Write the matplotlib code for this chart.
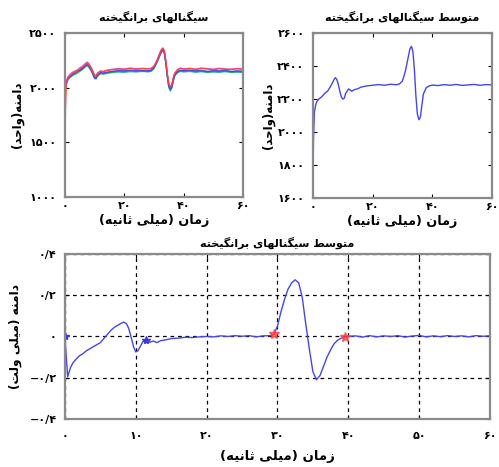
import matplotlib
matplotlib.use("Agg")
import matplotlib.pyplot as plt
import numpy as np

# Persian letters -> (isolated, final, initial, medial) presentation forms
FORMS = {
    'ا': ('\uFE8D', '\uFE8E', None, None),
    'ب': ('\uFE8F', '\uFE90', '\uFE91', '\uFE92'),
    'ت': ('\uFE95', '\uFE96', '\uFE97', '\uFE98'),
    'ث': ('\uFE99', '\uFE9A', '\uFE9B', '\uFE9C'),
    'ح': ('\uFEA1', '\uFEA2', '\uFEA3', '\uFEA4'),
    'خ': ('\uFEA5', '\uFEA6', '\uFEA7', '\uFEA8'),
    'د': ('\uFEA9', '\uFEAA', None, None),
    'ر': ('\uFEAD', '\uFEAE', None, None),
    'ز': ('\uFEAF', '\uFEB0', None, None),
    'س': ('\uFEB1', '\uFEB2', '\uFEB3', '\uFEB4'),
    'ط': ('\uFEC1', '\uFEC2', '\uFEC3', '\uFEC4'),
    'ل': ('\uFEDD', '\uFEDE', '\uFEDF', '\uFEE0'),
    'م': ('\uFEE1', '\uFEE2', '\uFEE3', '\uFEE4'),
    'ن': ('\uFEE5', '\uFEE6', '\uFEE7', '\uFEE8'),
    'ه': ('\uFEE9', '\uFEEA', '\uFEEB', '\uFEEC'),
    'و': ('\uFEED', '\uFEEE', None, None),
    'ی': ('\uFBFC', '\uFBFD', '\uFBFE', '\uFBFF'),
    'گ': ('\uFB92', '\uFB93', '\uFB94', '\uFB95'),
}


def fa(text):
    """Shape Persian text and return it in visual (left-to-right) order."""
    out = []
    for i, ch in enumerate(text):
        if ch not in FORMS:
            out.append(ch)
            continue
        prev = text[i - 1] if i > 0 else ''
        nxt = text[i + 1] if i + 1 < len(text) else ''
        iso, fin, ini, med = FORMS[ch]
        join_prev = prev in FORMS and FORMS[prev][2] is not None
        join_next = ini is not None and nxt in FORMS
        if join_prev and join_next:
            out.append(med)
        elif join_prev:
            out.append(fin)
        elif join_next:
            out.append(ini)
        else:
            out.append(iso)
    return ''.join(reversed(out)).translate(str.maketrans('()', ')('))


def fa_num(v):
    s = ('%g' % v).replace('-', '\u2212').replace('.', '/')
    return s.translate(str.maketrans('0123456789', '۰۱۲۳۴۵۶۷۸۹'))


# ---- data ----
t_sig = [0, 0.2, 0.5, 1, 2, 3, 4, 5, 6, 7, 7.5, 8, 9, 10, 10.5, 11, 12, 13, 14, 16,
         18, 20, 22, 24, 26, 28, 29, 30, 31, 32, 32.5, 33, 33.5, 34, 34.5, 35, 35.5,
         36, 36.5, 37, 38, 39, 40, 42, 44, 46, 48, 50, 52, 54, 56, 58, 60]
sig_red = [1400, 1800, 2030, 2080, 2120, 2140, 2150, 2175, 2190, 2215, 2228, 2215, 2170,
           2110, 2105, 2130, 2150, 2145, 2158, 2165, 2172, 2168, 2178, 2170, 2176, 2172,
           2175, 2195, 2245, 2315, 2345, 2360, 2335, 2245, 2125, 2035, 2005, 2025, 2085,
           2130, 2165, 2178, 2170, 2176, 2168, 2178, 2172, 2166, 2175, 2170, 2168, 2174, 2170]
sig_blue = [1950, 2000, 2050, 2090, 2110, 2130, 2150, 2160, 2180, 2205, 2215, 2210, 2160,
            2090, 2090, 2120, 2140, 2135, 2142, 2150, 2158, 2155, 2162, 2158, 2160, 2156,
            2160, 2185, 2240, 2305, 2335, 2350, 2325, 2235, 2115, 2020, 1990, 2010, 2070,
            2120, 2150, 2160, 2158, 2162, 2155, 2160, 2150, 2158, 2155, 2160, 2150, 2155, 2152]
sig_teal = [1900, 1980, 2040, 2070, 2100, 2120, 2130, 2150, 2170, 2195, 2200, 2190, 2150,
            2085, 2080, 2105, 2130, 2125, 2130, 2140, 2145, 2142, 2148, 2145, 2150, 2146,
            2150, 2175, 2230, 2295, 2325, 2340, 2315, 2225, 2100, 2005, 1970, 1995, 2060,
            2110, 2140, 2150, 2145, 2150, 2142, 2148, 2140, 2145, 2142, 2148, 2140, 2143, 2140]
sig_green = [1920, 1990, 2045, 2080, 2105, 2125, 2140, 2155, 2175, 2200, 2208, 2200, 2155,
             2095, 2088, 2112, 2135, 2130, 2138, 2146, 2150, 2148, 2155, 2150, 2154, 2150,
             2155, 2180, 2235, 2300, 2330, 2345, 2320, 2230, 2108, 2012, 1982, 2004, 2066,
             2115, 2146, 2155, 2150, 2156, 2148, 2154, 2146, 2150, 2148, 2154, 2146, 2150, 2146]
sig_magenta = [2000, 2020, 2060, 2100, 2130, 2150, 2160, 2180, 2200, 2225, 2235, 2225, 2180,
               2120, 2110, 2135, 2155, 2150, 2160, 2170, 2175, 2172, 2180, 2174, 2178, 2175,
               2178, 2198, 2250, 2320, 2350, 2365, 2340, 2250, 2130, 2040, 2010, 2030, 2090,
               2135, 2168, 2180, 2172, 2178, 2170, 2180, 2175, 2170, 2178, 2172, 2170, 2176, 2172]

t_mean = [0, 0.2, 0.5, 1, 1.5, 2, 3, 4, 5, 6, 7, 7.5, 8, 8.5, 9, 9.5, 10, 10.5, 11, 12,
          13, 14, 15, 16, 18, 20, 22, 24, 26, 28, 29, 30, 31, 32, 32.5, 33, 33.5, 34,
          34.5, 35, 35.5, 36, 36.5, 37, 38, 39, 40, 42, 44, 46, 48, 50, 52, 54, 56, 58, 60]
mean_units = [1640, 1950, 2120, 2170, 2190, 2200, 2215, 2235, 2250, 2280, 2315, 2330, 2320,
              2290, 2250, 2215, 2200, 2205, 2235, 2262, 2248, 2258, 2262, 2272, 2280, 2284,
              2288, 2284, 2290, 2287, 2292, 2310, 2370, 2460, 2505, 2520, 2490, 2380, 2220,
              2110, 2075, 2090, 2160, 2230, 2270, 2280, 2285, 2282, 2288, 2284, 2289, 2283,
              2286, 2289, 2284, 2288, 2286]

t_mv = [0, 0.1, 0.4, 0.8, 1.2, 1.6, 2, 2.5, 3, 3.5, 4, 4.5, 5, 5.5, 6, 6.5, 7, 7.5, 8,
        8.3, 8.7, 9, 9.4, 9.7, 10, 10.3, 10.7, 11, 11.5, 12, 12.5, 13, 13.5, 14, 15, 16,
        17, 18, 19, 20, 21, 22, 23, 24, 25, 26, 27, 28, 29, 29.5, 30, 30.5, 31, 31.5, 32,
        32.5, 33, 33.5, 34, 34.5, 35, 35.5, 36, 36.5, 37, 37.5, 38, 38.5, 39, 39.5, 40,
        41, 42, 43, 44, 45, 46, 47, 48, 49, 50, 51, 52, 53, 54, 55, 56, 57, 58, 59, 60]
mean_mv = [0.0, -0.05, -0.195, -0.15, -0.125, -0.11, -0.095, -0.085, -0.07, -0.06, -0.05,
           -0.04, -0.03, -0.01, 0.01, 0.03, 0.045, 0.055, 0.065, 0.07, 0.062, 0.04, -0.01,
           -0.05, -0.075, -0.07, -0.045, -0.025, -0.015, -0.028, -0.022, -0.03, -0.02,
           -0.018, -0.01, -0.008, -0.004, -0.005, -0.002, 0.0, -0.002, 0.003, 0.0, 0.004,
           0.001, 0.004, -0.002, 0.003, 0.004, 0.01, 0.05, 0.12, 0.18, 0.23, 0.26, 0.275,
           0.26, 0.19, 0.06, -0.06, -0.17, -0.21, -0.19, -0.145, -0.1, -0.065, -0.035,
           -0.018, -0.008, -0.004, 0.0, 0.003, -0.003, 0.004, -0.002, 0.003, 0.0, 0.004,
           -0.003, 0.002, 0.005, -0.002, 0.003, -0.001, 0.004, 0.0, 0.003, -0.002, 0.004,
           0.001, 0.003]

# points flagged on the mean trace
mark_blue_t = [0, 11.5]
mark_blue_v = [0.0, -0.015]
mark_red_t = [29.5, 39.5]
mark_red_v = [0.01, -0.004]

xticks_top = [0, 20, 40, 60]
yticks_sig = [1000, 1500, 2000, 2500]
yticks_mean = [1600, 1800, 2000, 2200, 2400, 2600]
xticks_mv = [0, 10, 20, 30, 40, 50, 60]
yticks_mv = [-0.4, -0.2, 0, 0.2, 0.4]

TITLE_ALL = fa('سیگنالهای برانگیخته')
TITLE_MEAN = fa('متوسط سیگنالهای برانگیخته')
XLABEL = fa('زمان (میلی ثانیه)')
YLABEL_UNITS = fa('دامنه(واحد)')
YLABEL_MV = fa('دامنه (میلی ولت)')

plt.rcParams['font.family'] = ['DejaVu Sans']
plt.rcParams['font.weight'] = 'bold'
plt.rcParams['axes.labelweight'] = 'bold'
plt.rcParams['axes.titleweight'] = 'bold'
plt.rcParams['font.size'] = 8

fig = plt.figure(figsize=(4.99, 4.67), dpi=100)
ax1 = fig.add_axes([0.130, 0.578, 0.357, 0.351])
ax2 = fig.add_axes([0.627, 0.576, 0.359, 0.353])
ax3 = fig.add_axes([0.130, 0.103, 0.852, 0.353])


def style(ax, xt, yt, xpad):
    for s in ax.spines.values():
        s.set_color('#8a8a8a')
        s.set_linewidth(1.6)
    ax.tick_params(direction='in', top=True, right=True, length=3, width=0.8,
                   labelsize=8)
    ax.tick_params(axis='x', pad=xpad)
    ax.tick_params(axis='y', pad=6)
    ax.set_xticks(xt)
    ax.set_xticklabels([fa_num(v) for v in xt])
    ax.set_yticks(yt)
    ax.set_yticklabels([fa_num(v) for v in yt])


for vals, col in [(sig_teal, '#1aa3a3'), (sig_green, '#2e9a3a'), (sig_blue, '#3a3ae0'),
                  (sig_magenta, '#cc44cc'), (sig_red, '#ff3c3c')]:
    ax1.plot(t_sig, vals, color=col, lw=1.0, alpha=0.85)
ax1.set_xlim(0, 60)
ax1.set_ylim(1000, 2500)
style(ax1, xticks_top, yticks_sig, 3)
ax1.set_title(TITLE_ALL, fontsize=8, pad=9)
ax1.set_xlabel(XLABEL, fontsize=9.2, labelpad=2)
ax1.set_ylabel(YLABEL_UNITS, fontsize=8.5, labelpad=4)

ax2.plot(t_mean, mean_units, color='#4646e8', lw=1.0)
ax2.set_xlim(0, 60)
ax2.set_ylim(1600, 2600)
style(ax2, xticks_top, yticks_mean, 3)
ax2.set_title(TITLE_MEAN, fontsize=8, pad=9)
ax2.set_xlabel(XLABEL, fontsize=9.2, labelpad=2)
ax2.set_ylabel(YLABEL_UNITS, fontsize=8.5, labelpad=2)

ax3.plot(t_mv, mean_mv, color='#4646e8', lw=1.0)
ax3.plot(mark_blue_t, mark_blue_v, '*', color='#3a3ae0', ms=6, ls='none')
ax3.plot(mark_red_t, mark_red_v, '*', color='#ff4040', ms=7, ls='none', alpha=0.8)
ax3.set_xlim(0, 60)
ax3.set_ylim(-0.4, 0.4)
style(ax3, xticks_mv, yticks_mv, 9)
ax3.grid(True, color='black', ls=(0, (3, 3)), lw=0.9)
ax3.set_title(TITLE_MEAN, fontsize=8, pad=5)
ax3.set_xlabel(XLABEL, fontsize=9.5, labelpad=6)
ax3.set_ylabel(YLABEL_MV, fontsize=8.8, labelpad=5)

fig.savefig('out.png', dpi=100)
